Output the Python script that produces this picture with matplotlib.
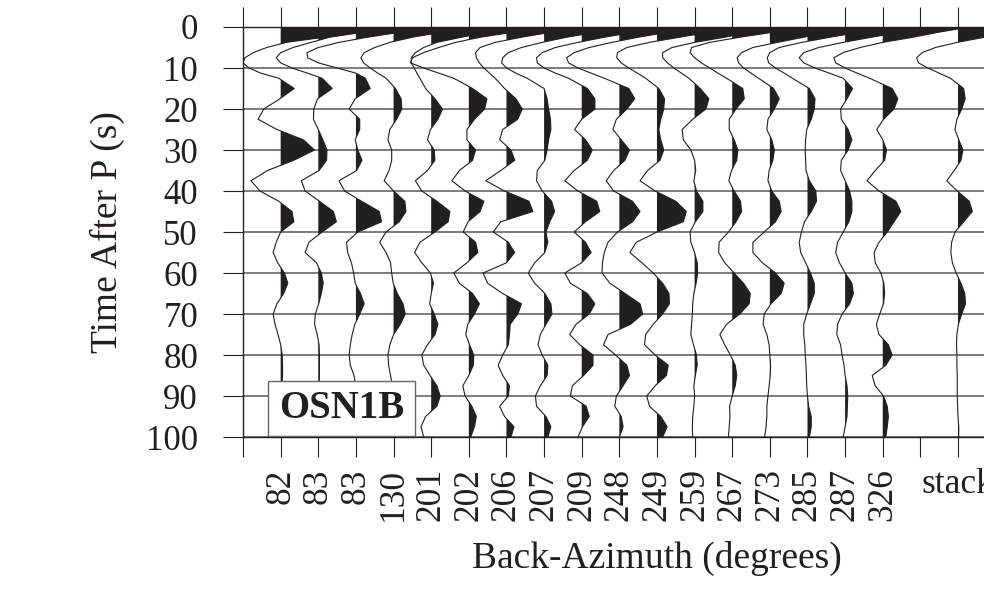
import numpy as np
import matplotlib
matplotlib.use('Agg')
import matplotlib.pyplot as plt
from matplotlib.patches import Rectangle

plt.rcParams['font.family'] = 'Liberation Serif'

# time after P (s): every 1.25 s over the big direct-P swing, then every 2.5 s
t = np.concatenate([np.arange(0, 12.5, 1.25), np.arange(12.5, 100.1, 2.5)])

baz_labels = ['82', '83', '83', '130', '201', '202', '206', '207', '209',
              '248', '249', '259', '267', '273', '285', '287', '326']

# receiver functions, amplitude in units of trace spacing
baz82 = [2.5, 1.9, 1.15, 0.15, -0.37, -0.73, -0.95, -1.0, -0.84, -0.53,
         -0.05, 0.36, -0.02, -0.45, -0.6, -0.1, 0.6, 0.9, 0.35, -0.35,
         -0.79, -0.55, -0.05, 0.3, 0.35, 0.0, -0.12, -0.2, -0.08, 0.1,
         0.19, 0.08, -0.1, -0.2, -0.15, -0.07, 0.0, 0.04, 0.05, 0.05,
         0.03, 0.0, -0.02, 0.02, 0.03, 0.01]
baz83a = [2.2, 1.2, 0.3, -0.19, -0.67, -1.0, -1.12, -1.0, -0.7, -0.29,
          0.1, 0.37, -0.02, -0.12, -0.13, 0.0, 0.12, 0.23, 0.22, 0.02,
          -0.45, -0.35, 0.03, 0.4, 0.48, 0.1, -0.25, -0.35, -0.05, 0.08,
          0.13, 0.08, 0.01, -0.08, -0.1, -0.03, 0.02, 0.03, 0.03, 0.03,
          0.02, 0.0, -0.02, 0.0, 0.02, 0.01]
baz83b = [2.3, 1.2, 0.3, -0.45, -1.0, -1.3, -1.28, -1.0, -0.5, 0.0,
          0.25, 0.38, -0.02, -0.18, 0.1, 0.1, -0.02, 0.05, 0.16, 0.02,
          -0.45, -0.3, 0.15, 0.62, 0.68, 0.05, -0.25, -0.22, -0.12, -0.06,
          -0.02, 0.12, 0.22, 0.1, -0.03, -0.1, -0.15, -0.18, -0.15, -0.05,
          0.0, 0.0, 0.02, 0.0, 0.0, 0.0]
baz130 = [2.3, 1.3, 0.5, -0.1, -0.5, -0.78, -0.87, -0.8, -0.62, -0.42,
          -0.2, 0.05, 0.2, 0.22, 0.08, -0.1, -0.15, -0.05, -0.05, -0.12,
          -0.25, 0.0, 0.3, 0.33, 0.15, -0.2, -0.37, -0.2, -0.08, -0.05,
          -0.01, 0.1, 0.25, 0.31, 0.18, 0.0, -0.1, -0.15, -0.13, -0.08,
          -0.03, 0.0, 0.02, 0.0, 0.0, 0.0]
baz201 = [2.3, 1.5, 0.8, 0.15, -0.2, -0.42, -0.53, -0.53, -0.45, -0.38,
          -0.3, -0.15, 0.1, 0.3, 0.18, -0.02, -0.1, 0.08, 0.1, -0.1,
          -0.42, -0.25, 0.15, 0.5, 0.45, 0.1, -0.3, -0.44, -0.25, -0.02,
          0.06, 0.0, -0.04, 0.08, 0.18, 0.1, -0.1, -0.25, -0.2, -0.03,
          0.15, 0.24, 0.15, -0.15, -0.27, -0.2]
baz202 = [2.2, 1.2, 0.3, -0.35, -0.8, -1.2, -1.5, -1.55, -1.2, -0.8,
          -0.4, 0.1, 0.48, 0.42, 0.15, -0.05, -0.05, 0.18, 0.1, -0.25,
          -0.45, -0.1, 0.4, 0.3, -0.02, -0.15, 0.18, 0.24, -0.05, -0.4,
          -0.25, 0.1, 0.28, 0.15, -0.03, -0.08, 0.02, 0.13, 0.12, 0.0,
          -0.16, -0.1, 0.08, 0.2, 0.15, 0.05]
baz206 = [2.2, 1.2, 0.4, -0.3, -0.7, -0.82, -0.8, -0.72, -0.6, -0.45,
          -0.3, -0.05, 0.25, 0.42, 0.3, -0.1, -0.18, 0.12, 0.22, -0.15,
          -0.55, -0.05, 0.6, 0.7, -0.15, -0.35, 0.05, 0.22, 0.0, -0.62,
          -0.5, -0.1, 0.4, 0.3, 0.1, 0.08, 0.05, -0.1, -0.22, -0.1,
          0.08, 0.05, -0.18, -0.05, 0.2, 0.12]
baz207 = [2.3, 1.4, 0.6, -0.05, -0.6, -0.95, -1.1, -1.13, -1.0, -0.75,
          -0.45, 0.0, 0.08, 0.12, 0.17, 0.18, 0.12, 0.08, 0.02, -0.18,
          -0.2, -0.05, 0.2, 0.28, 0.15, 0.05, 0.1, 0.02, -0.25, -0.42,
          -0.25, 0.02, 0.18, 0.21, 0.05, -0.1, -0.16, -0.05, 0.1, 0.08,
          -0.1, -0.23, -0.2, 0.05, 0.18, 0.1]
baz209 = [2.3, 1.4, 0.6, -0.1, -0.7, -1.05, -1.2, -1.18, -1.0, -0.7,
          -0.35, 0.15, 0.35, 0.35, 0.0, -0.19, 0.1, 0.28, 0.15, -0.2,
          -0.45, -0.1, 0.4, 0.48, 0.1, -0.2, 0.1, 0.25, 0.0, -0.45,
          -0.3, 0.15, 0.35, 0.2, -0.15, -0.32, -0.05, 0.3, 0.3, 0.05,
          -0.25, -0.3, 0.12, 0.2, 0.02, -0.1]
baz248 = [2.3, 1.3, 0.5, -0.2, -0.8, -1.2, -1.4, -1.35, -1.1, -0.75,
          -0.4, 0.25, 0.41, 0.2, -0.08, -0.17, 0.05, 0.27, 0.15, -0.15,
          -0.35, -0.15, 0.35, 0.55, 0.35, -0.05, -0.3, -0.4, -0.45, -0.46,
          -0.25, 0.15, 0.55, 0.62, 0.3, -0.3, -0.42, -0.1, 0.2, 0.27,
          0.1, -0.08, -0.12, 0.05, 0.1, 0.0]
baz249 = [2.3, 1.4, 0.6, -0.2, -0.8, -1.05, -1.07, -0.95, -0.75, -0.52,
          -0.3, 0.05, 0.2, 0.18, 0.1, 0.05, 0.1, 0.18, 0.08, -0.25,
          -0.45, -0.05, 0.5, 0.78, 0.7, 0.0, -0.55, -0.72, -0.4, -0.1,
          0.15, 0.32, 0.33, 0.15, -0.1, -0.3, -0.33, -0.05, 0.3, 0.25,
          -0.05, -0.27, -0.2, 0.1, 0.27, 0.15]
baz259 = [2.3, 1.5, 0.8, 0.0, -0.6, -0.85, -0.85, -0.72, -0.55, -0.35,
          -0.15, 0.15, 0.38, 0.3, -0.05, -0.33, -0.3, -0.1, 0.0, 0.03,
          -0.02, 0.05, 0.22, 0.22, 0.02, -0.12, -0.1, 0.0, 0.07, 0.08,
          0.04, -0.02, -0.05, -0.06, -0.08, -0.1, -0.03, 0.05, 0.07, 0.02,
          -0.02, 0.0, -0.02, -0.05, -0.06, -0.05]
baz267 = [2.3, 1.1, 0.2, -0.6, -1.08, -1.12, -1.0, -0.82, -0.6, -0.38,
          -0.15, 0.28, 0.32, 0.1, -0.08, -0.08, 0.05, 0.15, 0.12, -0.02,
          -0.09, 0.05, 0.22, 0.25, 0.1, -0.1, -0.35, -0.36, -0.2, 0.05,
          0.3, 0.48, 0.45, 0.2, -0.15, -0.33, -0.2, -0.05, 0.08, 0.12,
          0.08, 0.0, -0.07, -0.06, -0.08, -0.1]
baz273 = [2.3, 1.6, 0.9, 0.2, -0.45, -0.75, -0.87, -0.83, -0.7, -0.5,
          -0.3, 0.1, 0.25, 0.12, -0.05, -0.08, 0.05, 0.12, 0.08, -0.02,
          -0.05, 0.05, 0.25, 0.3, 0.15, -0.15, -0.45, -0.45, -0.2, 0.15,
          0.38, 0.3, 0.03, -0.15, -0.18, -0.08, -0.02, 0.0, 0.02, 0.01,
          -0.02, -0.05, -0.08, -0.08, -0.1, -0.14]
baz285 = [2.3, 1.4, 0.6, -0.15, -0.75, -1.0, -1.07, -1.03, -0.85, -0.62,
          -0.4, 0.05, 0.2, 0.18, 0.1, -0.02, -0.05, -0.06, -0.05, -0.04,
          0.05, 0.22, 0.24, 0.1, -0.08, -0.16, -0.22, -0.18, -0.05, 0.08,
          0.18, 0.18, 0.08, -0.02, -0.1, -0.1, -0.07, -0.06, -0.04, -0.03,
          -0.02, 0.0, 0.03, 0.1, 0.1, 0.05]
baz287 = [2.3, 1.5, 0.7, -0.05, -0.7, -1.1, -1.22, -1.1, -0.8, -0.42,
          -0.05, 0.2, 0.05, -0.12, -0.1, 0.08, 0.18, 0.08, -0.1, -0.12,
          0.0, 0.12, 0.18, 0.18, 0.1, -0.05, -0.2, -0.25, -0.15, 0.0,
          0.18, 0.22, 0.12, -0.08, -0.2, -0.22, -0.12, -0.08, -0.03, 0.0,
          0.05, 0.07, 0.06, 0.05, 0.0, -0.05]
baz326 = [2.3, 1.5, 0.8, 0.0, -0.6, -1.05, -1.3, -1.25, -1.0, -0.68,
          -0.35, 0.25, 0.4, 0.3, 0.02, -0.16, 0.0, 0.1, 0.05, -0.2,
          -0.42, -0.1, 0.35, 0.48, 0.3, 0.12, -0.1, -0.23, -0.2, -0.05,
          0.03, 0.05, 0.02, -0.08, -0.17, -0.1, 0.15, 0.25, 0.08, -0.28,
          -0.2, 0.02, 0.12, 0.15, 0.12, 0.08]
stack = [2.3, 1.4, 0.7, -0.02, -0.6, -0.95, -1.1, -1.05, -0.8, -0.5,
         -0.2, 0.15, 0.19, 0.1, -0.03, -0.08, 0.02, 0.13, 0.08, -0.1,
         -0.3, -0.02, 0.3, 0.38, 0.15, -0.08, -0.17, -0.19, -0.15, -0.05,
         0.08, 0.18, 0.2, 0.1, 0.01, -0.03, -0.04, -0.03, -0.03, -0.02,
         -0.02, -0.02, -0.01, 0.0, 0.02, 0.02]

traces = [baz82, baz83a, baz83b, baz130, baz201, baz202, baz206, baz207,
          baz209, baz248, baz249, baz259, baz267, baz273, baz285, baz287,
          baz326]

ink = '#231f20'

fig = plt.figure(figsize=(9.84, 6.15), dpi=100)
ax = fig.add_axes([0.247, 0.2894, 0.8413, 0.6667])

# wiggles: trace i sits at x=i, the stack two slots after the last one
positions = list(range(1, len(traces) + 1)) + [len(traces) + 2]
for x0, tr in zip(positions, traces + [stack]):
    amp = np.array(tr)
    ax.fill_betweenx(t, x0, x0 + amp, where=amp > 0, interpolate=True,
                     color=ink, lw=0, zorder=3)
    ax.plot(x0 + amp, t, color=ink, lw=0.8, zorder=4,
            solid_joinstyle='round')

ax.set_xlim(0, 22)
ax.set_ylim(100, 0)

ax.set_yticks(range(0, 101, 10))
ax.yaxis.grid(True, color='0.35', lw=1.1)
ax.set_axisbelow(True)

xt = list(range(0, 23))
xl = [''] * 23
for p, lab in zip(positions, baz_labels + ['stack']):
    xl[p] = lab
ax.set_xticks(xt)
ax.set_xticklabels(xl, rotation=90)
for lbl in ax.get_xticklabels():
    if lbl.get_text() == 'stack':
        lbl.set_rotation(0)

ax.tick_params(axis='x', direction='out', length=14.4, width=0.8,
               top=True, bottom=True, labelsize=25.5, pad=8, colors=ink)
ax.tick_params(axis='y', direction='out', length=14.4, width=0.8,
               labelsize=25, pad=18, colors=ink)
for s in ax.spines.values():
    s.set_color(ink)
    s.set_linewidth(1.0)
ax.spines['right'].set_visible(False)

ax.set_xlabel('Back-Azimuth (degrees)', fontsize=27, labelpad=14, color=ink)
ax.set_ylabel('Time After P (s)', fontsize=27, labelpad=15, color=ink)

# station name box
ax.add_patch(Rectangle((0.0302, 0.0024), 0.1776, 0.134, transform=ax.transAxes,
                       facecolor='white', edgecolor='0.4', lw=1.0, zorder=5))
ax.text(0.119, 0.0695, 'OSN1B', transform=ax.transAxes, fontsize=28,
        fontweight='bold', ha='center', va='center', color=ink, zorder=6)

fig.savefig('out.png', dpi=100)
